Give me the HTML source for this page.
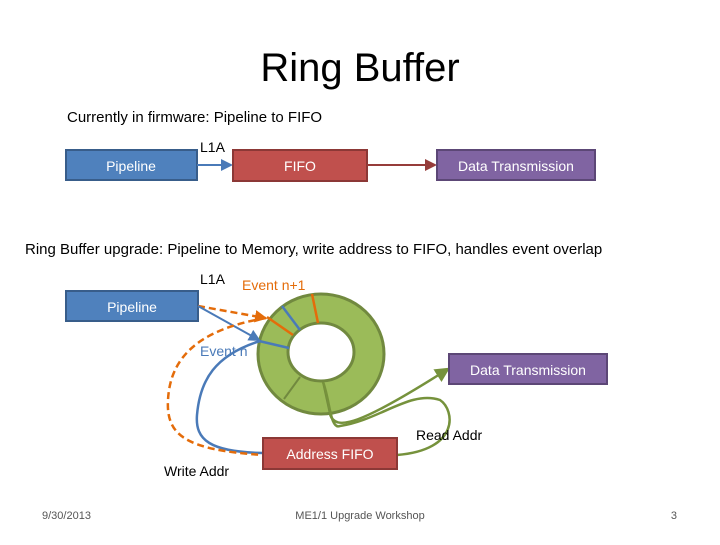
<!DOCTYPE html>
<html><head><meta charset="utf-8"><style>
body{margin:0;background:#fff;}
svg text{font-family:"Liberation Sans",sans-serif;}
</style></head><body>
<svg width="720" height="540" viewBox="0 0 720 540" xmlns="http://www.w3.org/2000/svg">
<defs>
<marker id="ab" markerWidth="6" markerHeight="6" refX="5" refY="3" orient="auto"><path d="M0,0L6,3L0,6z" fill="#4a7ab8"/></marker>
<marker id="ar" markerWidth="6" markerHeight="6" refX="5" refY="3" orient="auto"><path d="M0,0L6,3L0,6z" fill="#963c3a"/></marker>
<marker id="ag" markerWidth="6" markerHeight="6" refX="5" refY="3" orient="auto"><path d="M0,0L6,3L0,6z" fill="#76923c"/></marker>
<marker id="ao" markerWidth="5" markerHeight="5" refX="4" refY="2.5" orient="auto"><path d="M0,0L5,2.5L0,5z" fill="#e46c0a"/></marker>
</defs>
<text x="360" y="81" font-size="40" text-anchor="middle" fill="#000">Ring Buffer</text>
<text x="67" y="122" font-size="15" fill="#000">Currently in firmware: Pipeline to FIFO</text>
<rect x="66" y="150" width="131" height="30" fill="#4f81bd" stroke="#385d8a" stroke-width="2"/>
<text x="131" y="171" font-size="14" fill="#fff" text-anchor="middle">Pipeline</text>
<text x="200" y="152" font-size="14">L1A</text>
<line x1="197" y1="165" x2="231" y2="165" stroke="#4a7ab8" stroke-width="2" marker-end="url(#ab)"/>
<rect x="233" y="150" width="134" height="31" fill="#c0504d" stroke="#8c3836" stroke-width="2"/>
<text x="300" y="171" font-size="14" fill="#fff" text-anchor="middle">FIFO</text>
<line x1="367" y1="165" x2="435" y2="165" stroke="#963c3a" stroke-width="2" marker-end="url(#ar)"/>
<rect x="437" y="150" width="158" height="30" fill="#8064a2" stroke="#5c4776" stroke-width="2"/>
<text x="516" y="171" font-size="14" fill="#fff" text-anchor="middle">Data Transmission</text>
<text x="25" y="254" font-size="15">Ring Buffer upgrade: Pipeline to Memory, write address to FIFO, handles event overlap</text>
<text x="200" y="284" font-size="14">L1A</text>
<text x="242" y="290" font-size="14" fill="#e46c0a">Event n+1</text>
<rect x="66" y="291" width="132" height="30" fill="#4f81bd" stroke="#385d8a" stroke-width="2"/>
<text x="132" y="312" font-size="14" fill="#fff" text-anchor="middle">Pipeline</text>
<path fill-rule="evenodd" d="M258,354a63,60 0 1,0 126,0a63,60 0 1,0 -126,0z M288,352a33,29 0 1,0 66,0a33,29 0 1,0 -66,0z" fill="#9bbb59" stroke="#71893f" stroke-width="3"/>
<line x1="312" y1="294" x2="318" y2="323" stroke="#e46c0a" stroke-width="2.5"/>
<line x1="282" y1="306" x2="300" y2="330" stroke="#4a7ab8" stroke-width="2.5"/>
<line x1="267" y1="317" x2="293" y2="335" stroke="#e46c0a" stroke-width="2.5"/>
<line x1="259" y1="341" x2="289" y2="348" stroke="#4a7ab8" stroke-width="2.5"/>
<line x1="284" y1="399" x2="300" y2="377" stroke="#71893f" stroke-width="2"/>
<line x1="323" y1="382" x2="330" y2="414" stroke="#71893f" stroke-width="2"/>
<line x1="198" y1="306" x2="265" y2="318" stroke="#e46c0a" stroke-width="2.5" stroke-dasharray="7,4" marker-end="url(#ao)"/>
<line x1="198" y1="306" x2="259" y2="340" stroke="#4a7ab8" stroke-width="2" marker-end="url(#ab)"/>
<text x="200" y="356" font-size="14" fill="#4a7ab8">Event n</text>
<path d="M260,341C215,355 200,380 197,415C195,440 210,452 263,453" fill="none" stroke="#4a7ab8" stroke-width="2.5"/>
<path d="M266,318C195,330 170,360 168,400C166,435 185,450 263,455" fill="none" stroke="#e46c0a" stroke-width="2.5" stroke-dasharray="7,4"/>
<path d="M330,414C335,432 360,425 448,369" fill="none" stroke="#76923c" stroke-width="2.5" marker-end="url(#ag)"/>
<path d="M323,382C330,400 330,430 340,426C380,420 410,390 440,400C455,410 460,450 397,455" fill="none" stroke="#76923c" stroke-width="2.5"/>
<rect x="449" y="354" width="158" height="30" fill="#8064a2" stroke="#5c4776" stroke-width="2"/>
<text x="528" y="375" font-size="14" fill="#fff" text-anchor="middle">Data Transmission</text>
<text x="416" y="440" font-size="14">Read Addr</text>
<rect x="263" y="438" width="134" height="31" fill="#c0504d" stroke="#8c3836" stroke-width="2"/>
<text x="330" y="459" font-size="14" fill="#fff" text-anchor="middle">Address FIFO</text>
<text x="164" y="476" font-size="14">Write Addr</text>
<text x="42" y="519" font-size="11" fill="#555">9/30/2013</text>
<text x="360" y="519" font-size="11" fill="#555" text-anchor="middle">ME1/1 Upgrade Workshop</text>
<text x="677" y="519" font-size="11" fill="#555" text-anchor="end">3</text>
</svg>
</body></html>
